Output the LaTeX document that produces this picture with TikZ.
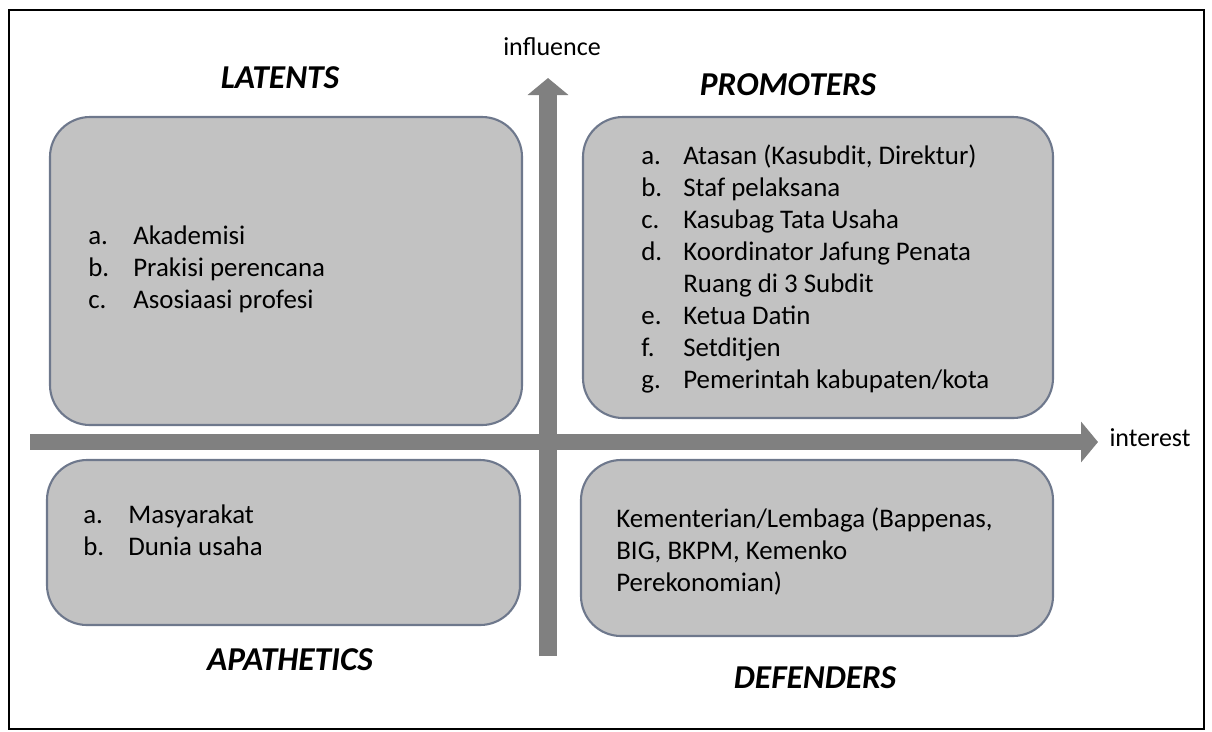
\documentclass[tikz,border=0pt]{standalone}
\usepackage{fontspec}
\setmainfont{Carlito}
\usetikzlibrary{arrows.meta}

\definecolor{slate}{RGB}{110,120,140}

\tikzset{
  quad/.style={draw=boxline,line width=1.2pt,fill=boxfill,rounded corners=0.8cm},
  title/.style={font=\fontsize{19}{22}\selectfont\bfseries\itshape},
  axis/.style={draw=axisgray,line width=10pt,-{Triangle[length=0.34cm,width=0.8cm]}},
  axislabel/.style={font=\fontsize{14.8}{17}\selectfont},
  items/.style={anchor=west,inner sep=0pt,font=\fontsize{15.3}{18.2}\selectfont,align=left}
}

\begin{document}
\begin{tikzpicture}[x=0.02cm,y=-0.02cm]
  \colorlet{boxfill}{black!24}
  \colorlet{boxline}{slate}
  \colorlet{axisgray}{black!50}

  \useasboundingbox (0,0) rectangle (1212,731);
  \draw[line width=1.2pt] (9,10) rectangle (1204,729);

  % the four quadrants
  \draw[quad] (50,117) rectangle (522,425);
  \draw[quad] (583,117) rectangle (1053,418);
  \draw[quad] (47,460) rectangle (520,625);
  \draw[quad] (581,460) rectangle (1053,636);

  % axes
  \coordinate (ybot) at (548,656);
  \coordinate (ytop) at (548,78);
  \coordinate (xleft) at (30,442);
  \coordinate (xright) at (1098,442);
  \draw[axis] (ybot) -- (ytop);
  \draw[axis,line width=9pt] (xleft) -- (xright);

  \node[axislabel] (influence) at (552,47) {influence};
  \node[axislabel] (interest) at (1150,438) {interest};

  \node[title] (latents) at (280,78) {LATENTS};
  \node[title] (promoters) at (788,85) {PROMOTERS};
  \node[title] (apathetics) at (290,660) {APATHETICS};
  \node[title] (defenders) at (815,678) {DEFENDERS};

  \node[items] (latentlist) at (88,270) {%
    \begin{tabular}{@{}p{0.9cm}@{}l@{}}
      a. & Akademisi\\
      b. & Prakisi perencana\\
      c. & Asosiaasi profesi
    \end{tabular}};

  \node[items] (promoterlist) at (641,270) {%
    \begin{tabular}{@{}p{0.84cm}@{}l@{}}
      a. & Atasan (Kasubdit, Direktur)\\
      b. & Staf pelaksana\\
      c. & Kasubag Tata Usaha\\
      d. & Koordinator Jafung Penata\\
         & Ruang di 3 Subdit\\
      e. & Ketua Datin\\
      f. & Setditjen\\
      g. & Pemerintah kabupaten/kota
    \end{tabular}};

  \node[items] (apatheticlist) at (83,533) {%
    \begin{tabular}{@{}p{0.9cm}@{}l@{}}
      a. & Masyarakat\\
      b. & Dunia usaha
    \end{tabular}};

  \node[items] (defenderlist) at (616,552) {Kementerian/Lembaga (Bappenas,\\BIG, BKPM, Kemenko\\Perekonomian)};
\end{tikzpicture}
\end{document}
